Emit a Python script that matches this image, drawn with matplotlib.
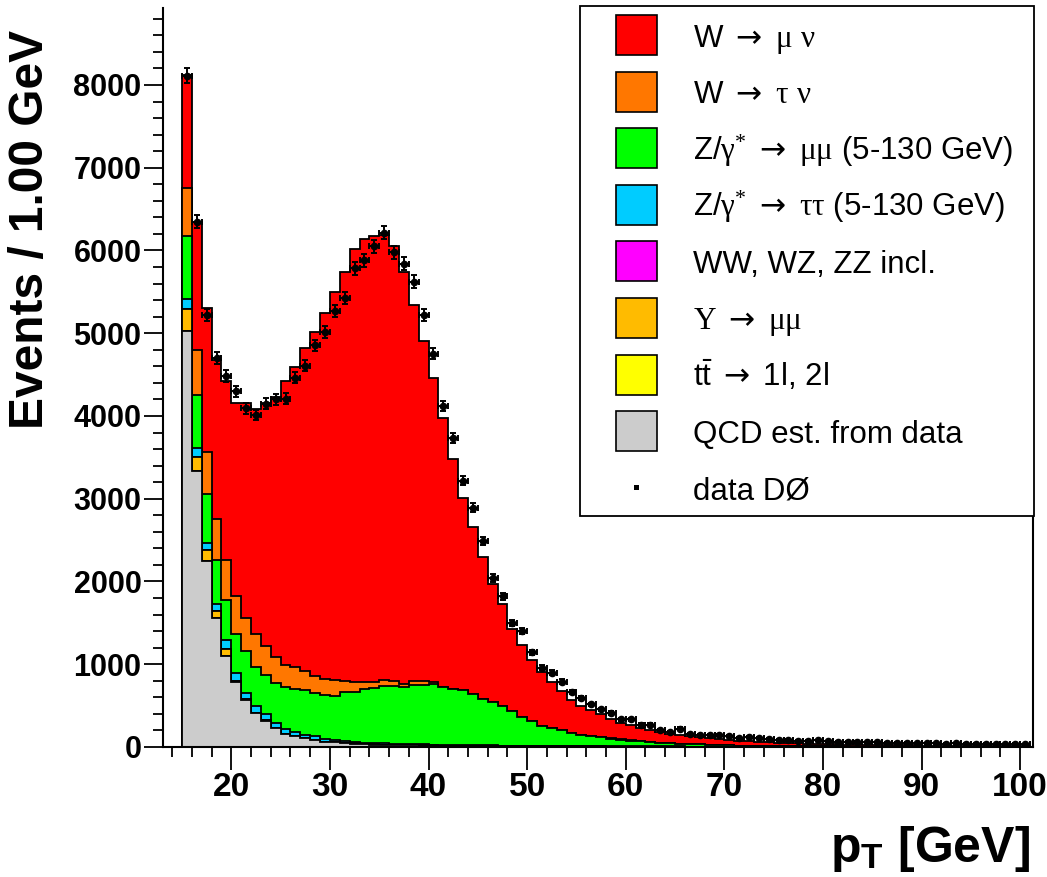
import numpy as np
import matplotlib
matplotlib.use("Agg")
import matplotlib.pyplot as plt
from matplotlib.patches import Rectangle

plt.rcParams["font.family"] = ["Liberation Sans", "DejaVu Sans"]
plt.rcParams["mathtext.fontset"] = "custom"
plt.rcParams["mathtext.rm"] = "Liberation Serif"
plt.rcParams["mathtext.it"] = "Liberation Serif:italic"
plt.rcParams["mathtext.bf"] = "Liberation Sans:bold"
plt.rcParams["mathtext.sf"] = "Liberation Sans"
plt.rcParams["mathtext.cal"] = "DejaVu Sans"

# 1 GeV bins from 15 to 101 GeV
edges = np.arange(15, 102)

qcd = [5030, 3340, 2250, 1555, 1095, 780, 568, 405, 320, 226,
       160, 133, 105, 85, 64, 56, 45, 40, 35, 30,
       27, 24, 22, 20, 18, 16, 15, 14, 13, 12,
       11, 10, 9, 9, 8, 7, 7, 6, 6, 5,
       5, 5, 4, 4, 4, 4, 3, 3, 3, 3,
       3, 2, 2, 2, 2, 2, 2, 2, 2, 1,
       1, 1, 1, 1, 1, 1, 1, 1, 1, 1,
       1, 1, 1, 1, 1, 1, 1, 1, 1, 1,
       1, 1, 1, 1, 1, 1]
ttbar = [0, 0, 0, 0, 1, 1, 1, 1, 1, 1,
         1, 1, 1, 1, 1, 2, 2, 2, 2, 2,
         2, 2, 2, 2, 2, 2, 2, 2, 2, 2,
         2, 2, 2, 2, 2, 2, 2, 2, 2, 2,
         2, 2, 2, 1, 1, 1, 1, 1, 1, 1,
         1, 1, 1, 1, 1, 1, 1, 1, 1, 1,
         1, 1, 1, 1, 1, 1, 1, 1, 1, 1,
         1, 1, 1, 1, 1, 0, 0, 0, 0, 0,
         0, 0, 0, 0, 0, 0]
upsilon = [260, 170, 130, 90, 85, 20, 10, 5, 3, 2,
           1, 1, 0, 0, 0, 0, 0, 0, 0, 0,
           0, 0, 0, 0, 0, 0, 0, 0, 0, 0,
           0, 0, 0, 0, 0, 0, 0, 0, 0, 0,
           0, 0, 0, 0, 0, 0, 0, 0, 0, 0,
           0, 0, 0, 0, 0, 0, 0, 0, 0, 0,
           0, 0, 0, 0, 0, 0, 0, 0, 0, 0,
           0, 0, 0, 0, 0, 0, 0, 0, 0, 0,
           0, 0, 0, 0, 0, 0]
diboson = [0, 0, 0, 0, 0, 0, 0, 0, 0, 0,
           1, 1, 1, 1, 1, 1, 1, 1, 1, 1,
           1, 1, 1, 1, 1, 1, 1, 1, 1, 1,
           1, 1, 1, 1, 1, 1, 1, 1, 1, 1,
           1, 1, 1, 1, 1, 1, 1, 1, 1, 1,
           1, 1, 1, 1, 1, 0, 0, 0, 0, 0,
           0, 0, 0, 0, 0, 0, 0, 0, 0, 0,
           0, 0, 0, 0, 0, 0, 0, 0, 0, 0,
           0, 0, 0, 0, 0, 0]
ztautau = [120, 100, 90, 88, 110, 90, 78, 87, 75, 58,
           52, 41, 38, 40, 29, 29, 19, 16, 15, 15,
           13, 12, 11, 10, 10, 10, 9, 8, 7, 6,
           6, 6, 6, 5, 5, 5, 4, 4, 3, 4,
           3, 3, 3, 3, 3, 2, 2, 2, 2, 2,
           2, 2, 1, 1, 1, 1, 1, 1, 1, 1,
           1, 1, 1, 1, 1, 1, 1, 1, 1, 1,
           1, 1, 0, 0, 0, 0, 0, 0, 0, 0,
           0, 0, 0, 0, 0, 0]
zmumu = [760, 644, 590, 527, 490, 480, 508, 470, 472, 489,
         506, 525, 540, 524, 535, 523, 592, 609, 645, 664,
         689, 701, 684, 711, 721, 731, 693, 675, 661, 619,
         559, 524, 472, 421, 346, 294, 243, 216, 196, 156,
         137, 117, 106, 93, 81, 70, 61, 53, 45, 39,
         33, 29, 26, 22, 19, 16, 14, 12, 10, 10,
         8, 7, 6, 6, 5, 4, 4, 3, 3, 3,
         2, 3, 3, 2, 2, 2, 2, 2, 1, 1,
         1, 1, 1, 1, 1, 1]
wtaunu = [590, 546, 510, 495, 480, 450, 391, 398, 352, 317,
          266, 260, 237, 201, 194, 194, 133, 112, 90, 68,
          81, 52, 44, 53, 45, 20, 8, 6, 5, 4,
          4, 3, 3, 3, 3, 3, 2, 2, 2, 2,
          2, 2, 2, 2, 1, 1, 1, 1, 1, 1,
          0, 0, 0, 0, 0, 0, 0, 0, 0, 0,
          0, 0, 0, 0, 0, 0, 0, 0, 0, 0,
          0, 0, 0, 0, 0, 0, 0, 0, 0, 0,
          0, 0, 0, 0, 0, 0]
wmunu = [1361, 1540, 1730, 1925, 2165, 2340, 2605, 2720, 2938, 3138,
         3430, 3625, 3898, 4165, 4418, 4691, 4943, 5240, 5350, 5391,
         5375, 5261, 4971, 4540, 4113, 3679, 3253, 2774, 2324, 2009,
         1711, 1422, 1230, 987, 863, 736, 648, 554, 462, 403,
         348, 320, 275, 233, 201, 181, 161, 143, 129, 115,
         105, 95, 86, 79, 72, 66, 60, 55, 51, 46,
         43, 39, 36, 32, 30, 28, 25, 24, 22, 20,
         19, 17, 16, 16, 15, 14, 13, 12, 12, 11,
         10, 10, 9, 9, 8, 8]
data = [8110, 6350, 5225, 4700, 4483, 4300, 4093, 4012, 4148, 4201,
        4209, 4463, 4606, 4854, 5017, 5265, 5421, 5785, 5879, 6053,
        6212, 5980, 5842, 5625, 5222, 4752, 4122, 3729, 3218, 2890,
        2489, 2045, 1820, 1500, 1403, 1142, 957, 896, 789, 661,
        594, 515, 455, 409, 338, 334, 270, 270, 205, 181,
        222, 157, 149, 149, 145, 133, 109, 117, 113, 97,
        88, 88, 76, 76, 80, 68, 66, 62, 60, 58,
        55, 52, 54, 48, 46, 47, 44, 42, 45, 40,
        38, 41, 36, 35, 37, 33]

arrow = r"$\mathcal{\rightarrow}$"
labels = [
    "W " + arrow + r" $\mathrm{\mu}$ $\mathrm{\nu}$",
    "W " + arrow + r" $\mathrm{\tau}$ $\mathrm{\nu}$",
    r"Z/$\mathrm{\gamma}^{*}$ " + arrow + r" $\mathrm{\mu\mu}$ (5-130 GeV)",
    r"Z/$\mathrm{\gamma}^{*}$ " + arrow + r" $\mathrm{\tau\tau}$ (5-130 GeV)",
    "WW, WZ, ZZ incl.",
    r"$\mathrm{\Upsilon}$ " + arrow + r" $\mathrm{\mu\mu}$",
    r"$\mathsf{t\bar{t}}$ " + arrow + " 1l, 2l",
    "QCD est. from data",
    "data D\u00d8",
]

xticks = [20, 30, 40, 50, 60, 70, 80, 90, 100]
yticks = [0, 1000, 2000, 3000, 4000, 5000, 6000, 7000, 8000]

# bottom -> top of the stack
stack = [
    (qcd, "#cccccc"),
    (ttbar, "#ffff00"),
    (upsilon, "#ffbb00"),
    (diboson, "#ff00ff"),
    (ztautau, "#00ccff"),
    (zmumu, "#00ff00"),
    (wtaunu, "#ff7700"),
    (wmunu, "#ff0000"),
]

W, H = 1047, 877
fig = plt.figure(figsize=(W / 100, H / 100), dpi=100)
ax = fig.add_axes([163 / W, (H - 747) / H, (1033 - 163) / W, (747 - 8) / H])

cum = np.cumsum([np.array(v, dtype=float) for v, _ in stack], axis=0)
for k in reversed(range(len(stack))):
    ax.stairs(cum[k], edges, baseline=0, fill=True,
              facecolor=stack[k][1], edgecolor="black", linewidth=1.3)

centers = edges[:-1] + 0.5
data = np.array(data, dtype=float)
ax.errorbar(centers, data, xerr=0.5, yerr=np.sqrt(data), fmt="o",
            color="black", ms=4.5, elinewidth=1.4, capsize=2.5,
            capthick=1.4, zorder=5)

ax.set_xlim(13.07, 101.3)
ax.set_ylim(0, 8930)
ax.set_xticks(xticks, labels=[str(v) for v in xticks],
              fontweight="bold", fontsize=24)
ax.set_yticks(yticks, labels=[str(v) for v in yticks],
              fontweight="bold", fontsize=22)
ax.set_xticks(np.arange(14, 101, 2), minor=True)
ax.set_yticks(np.arange(0, 8900, 200), minor=True)
ax.tick_params(axis="y", which="major", direction="out", length=14, width=1.3, pad=1.5)
ax.tick_params(axis="y", which="minor", direction="out", length=7, width=1.3)
ax.tick_params(axis="x", which="major", direction="out", length=16.5, width=1.3, pad=1.5)
ax.tick_params(axis="x", which="minor", direction="out", length=7, width=1.3)
ax.spines["top"].set_visible(False)
for s in ["left", "bottom", "right"]:
    ax.spines[s].set_linewidth(1.5)

fig.text(31 / W, 1 - 30 / H, "Events / 1.00 GeV", rotation=90,
         ha="center", va="top", fontsize=34.5, fontweight="bold")
fig.text(1030 / W, 1 - 862 / H, r"$\mathbf{p}_{\mathbf{T}}$ [GeV]",
         ha="right", va="baseline", fontsize=36, fontweight="bold")

# legend box, drawn in figure pixels
fig.add_artist(Rectangle((580 / W, 1 - 516 / H), (1034 - 580) / W, (516 - 6) / H,
                         transform=fig.transFigure, facecolor="white",
                         edgecolor="black", linewidth=1.3, zorder=3))
legend_colors = [c for _, c in stack[::-1]]
for i, lab in enumerate(labels):
    cy = 35 + i * 56.6
    if i < 8:
        fig.add_artist(Rectangle((616 / W, 1 - (cy + 20) / H), 41 / W, 40 / H,
                                 transform=fig.transFigure,
                                 facecolor=legend_colors[i], edgecolor="black",
                                 linewidth=1.2, zorder=4))
    else:
        fig.add_artist(Rectangle((634 / W, 1 - (cy + 2.5) / H), 5 / W, 5 / H,
                                 transform=fig.transFigure, facecolor="black",
                                 edgecolor="none", zorder=4))
    fig.text(693 / W, 1 - (cy + 11.5) / H, lab, ha="left", va="baseline",
             fontsize=22.5, zorder=5)

fig.savefig("out.png", dpi=100)
